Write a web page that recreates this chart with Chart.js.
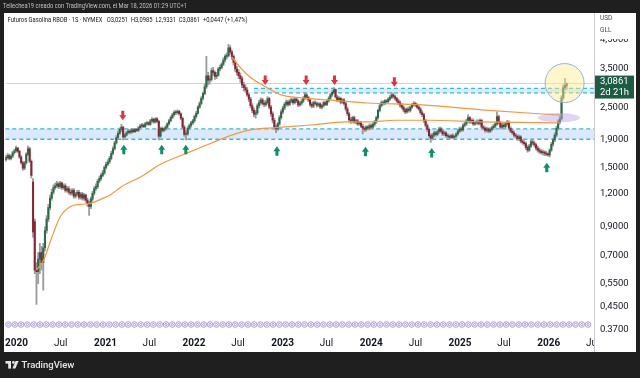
<!DOCTYPE html>
<html>
<head>
<meta charset="utf-8">
<script src="https://cdn.jsdelivr.net/npm/chart.js@4.4.1/dist/chart.umd.min.js"></script>
<style>
  html, body { margin: 0; padding: 0; background: #1f1f1f; }
</style>
</head>
<body>
<canvas id="rbobChart" width="640" height="378"></canvas>
<script>
// Weekly RBOB candles, first candle = week of 2019-11-18
const startWeek = "2019-11-18";

const opens = [
  1.60,1.63,1.66,1.62,1.65,1.70,1.73,1.77,1.72,1.64,
  1.56,1.49,1.56,1.68,1.76,1.58,1.32,0.94,0.62,0.61,
  0.68,0.72,0.66,0.75,0.87,0.96,1.06,1.15,1.21,1.26,
  1.28,1.30,1.27,1.31,1.26,1.28,1.23,1.25,1.21,1.20,
  1.23,1.17,1.19,1.21,1.16,1.19,1.15,1.18,1.13,1.10,
  1.07,1.14,1.20,1.25,1.27,1.33,1.36,1.40,1.43,1.50,
  1.54,1.57,1.62,1.69,1.76,1.85,1.94,2.01,2.08,2.12,
  1.95,1.98,2.02,2.05,2.03,2.07,2.04,2.08,2.06,2.11,
  2.14,2.16,2.13,2.18,2.20,2.17,2.24,2.27,2.22,2.28,
  2.23,1.96,2.10,2.06,2.09,2.12,2.18,2.24,2.30,2.36,
  2.41,2.40,2.43,2.38,2.29,2.12,1.99,2.00,2.10,2.15,
  2.20,2.24,2.32,2.39,2.52,2.60,2.72,2.83,3.00,3.30,
  3.18,3.20,3.45,3.40,3.28,3.32,3.50,3.55,3.65,3.78,
  3.90,3.92,4.20,4.05,3.90,3.70,3.50,3.40,3.30,3.22,
  3.05,2.98,2.92,2.80,2.70,2.55,2.45,2.37,2.40,2.55,
  2.62,2.68,2.60,2.58,2.62,2.71,2.52,2.38,2.25,2.12,
  2.09,2.18,2.30,2.42,2.50,2.58,2.63,2.58,2.65,2.68,
  2.62,2.70,2.66,2.57,2.60,2.65,2.72,2.80,2.74,2.68,
  2.58,2.54,2.62,2.60,2.56,2.59,2.52,2.55,2.62,2.58,
  2.66,2.72,2.80,2.86,2.93,2.75,2.68,2.72,2.63,2.68,
  2.60,2.48,2.38,2.26,2.24,2.30,2.22,2.24,2.18,2.20,
  2.14,2.10,2.08,2.12,2.10,2.15,2.12,2.17,2.22,2.30,
  2.45,2.55,2.62,2.60,2.66,2.64,2.70,2.74,2.80,2.76,
  2.72,2.66,2.62,2.56,2.52,2.46,2.42,2.48,2.45,2.52,
  2.57,2.60,2.56,2.52,2.48,2.40,2.36,2.24,2.15,2.08,
  1.97,1.93,1.98,2.02,1.99,2.04,2.09,2.05,2.00,2.02,
  1.97,1.96,1.94,1.97,1.94,1.96,2.00,2.05,2.09,2.07,
  2.15,2.18,2.24,2.30,2.22,2.25,2.18,2.20,2.23,2.19,
  2.25,2.12,2.10,2.06,2.09,2.05,2.08,2.11,2.14,2.18,
  2.32,2.20,2.12,2.16,2.13,2.18,2.21,2.10,2.05,2.02,
  1.98,1.96,1.92,1.95,1.88,1.86,1.84,1.78,1.74,1.80,
  1.87,1.85,1.82,1.77,1.74,1.72,1.70,1.71,1.69,1.68,
  1.67,1.74,1.83,1.90,1.98,2.10,2.22,2.28,2.73,2.98,3.0251
];
const highs = [
  1.66,1.69,1.68,1.67,1.72,1.75,1.80,1.78,1.74,1.66,
  1.58,1.58,1.70,1.80,1.78,1.60,1.36,0.96,0.66,0.72,
  0.78,0.76,0.78,0.90,0.99,1.09,1.18,1.24,1.29,1.31,
  1.33,1.32,1.33,1.32,1.30,1.30,1.27,1.27,1.24,1.25,
  1.25,1.21,1.23,1.23,1.21,1.21,1.20,1.19,1.15,1.12,
  1.16,1.22,1.27,1.30,1.35,1.39,1.42,1.46,1.52,1.57,
  1.60,1.65,1.72,1.79,1.88,1.97,2.05,2.11,2.17,2.13,
  2.01,2.05,2.08,2.07,2.10,2.09,2.10,2.10,2.13,2.17,
  2.19,2.18,2.21,2.23,2.22,2.27,2.30,2.29,2.30,2.30,
  2.25,2.12,2.12,2.11,2.15,2.20,2.27,2.33,2.39,2.44,
  2.45,2.46,2.45,2.40,2.31,2.15,2.05,2.13,2.18,2.23,
  2.27,2.35,2.43,2.55,2.64,2.76,2.87,3.08,3.90,3.40,
  3.30,3.52,3.55,3.44,3.40,3.55,3.62,3.70,3.85,3.96,
  4.02,4.33,4.28,4.12,3.95,3.76,3.58,3.48,3.38,3.28,
  3.12,3.05,2.98,2.85,2.74,2.60,2.50,2.45,2.59,2.67,
  2.73,2.72,2.66,2.67,2.76,2.74,2.56,2.42,2.29,2.16,
  2.21,2.34,2.46,2.54,2.62,2.68,2.67,2.69,2.73,2.71,
  2.74,2.74,2.69,2.64,2.69,2.76,2.86,2.83,2.77,2.71,
  2.62,2.65,2.66,2.63,2.62,2.62,2.58,2.65,2.65,2.69,
  2.76,2.84,2.90,2.98,2.95,2.79,2.76,2.75,2.71,2.71,
  2.63,2.52,2.41,2.30,2.33,2.33,2.27,2.27,2.23,2.23,
  2.17,2.13,2.15,2.15,2.18,2.18,2.20,2.25,2.33,2.48,
  2.58,2.66,2.66,2.69,2.69,2.73,2.78,2.86,2.84,2.79,
  2.75,2.70,2.66,2.60,2.55,2.50,2.51,2.52,2.55,2.60,
  2.64,2.63,2.59,2.55,2.51,2.44,2.39,2.27,2.18,2.11,
  2.00,2.01,2.05,2.05,2.07,2.12,2.12,2.08,2.05,2.04,
  2.00,1.99,1.99,2.00,1.98,2.02,2.08,2.12,2.12,2.18,
  2.21,2.27,2.36,2.32,2.28,2.28,2.23,2.26,2.26,2.28,
  2.27,2.15,2.13,2.12,2.11,2.11,2.14,2.17,2.21,2.42,
  2.35,2.23,2.19,2.19,2.21,2.25,2.24,2.13,2.08,2.05,
  2.01,1.99,1.98,1.97,1.91,1.89,1.87,1.81,1.83,1.90,
  1.90,1.88,1.84,1.80,1.77,1.75,1.74,1.73,1.72,1.70,
  1.76,1.86,1.93,2.02,2.14,2.26,2.33,2.78,3.05,3.23,3.0985
];
const lows = [
  1.58,1.61,1.60,1.60,1.63,1.68,1.71,1.70,1.62,1.54,
  1.46,1.47,1.54,1.66,1.56,1.37,0.82,0.60,0.46,0.55,
  0.60,0.62,0.52,0.73,0.85,0.94,1.04,1.13,1.19,1.24,
  1.26,1.25,1.25,1.24,1.24,1.21,1.21,1.19,1.18,1.18,
  1.15,1.15,1.17,1.14,1.14,1.13,1.13,1.11,1.07,0.99,
  1.05,1.12,1.18,1.23,1.25,1.31,1.34,1.38,1.41,1.48,
  1.52,1.55,1.60,1.67,1.74,1.83,1.92,1.99,2.04,1.90,
  1.93,1.96,2.00,2.00,2.01,2.02,2.02,2.04,2.04,2.09,
  2.11,2.11,2.11,2.16,2.15,2.15,2.21,2.19,2.20,2.20,
  1.90,1.94,2.03,2.04,2.06,2.10,2.16,2.22,2.28,2.33,
  2.36,2.37,2.35,2.26,2.09,1.96,1.90,1.98,2.07,2.12,
  2.17,2.21,2.29,2.37,2.49,2.57,2.68,2.80,2.96,3.05,
  3.08,3.15,3.32,3.20,3.22,3.28,3.44,3.50,3.60,3.72,
  3.82,3.88,3.98,3.80,3.62,3.42,3.32,3.22,3.12,2.98,
  2.90,2.86,2.76,2.64,2.50,2.40,2.32,2.29,2.36,2.50,
  2.58,2.56,2.53,2.54,2.58,2.48,2.33,2.20,2.08,2.02,
  2.06,2.15,2.27,2.38,2.46,2.54,2.54,2.55,2.61,2.58,
  2.59,2.62,2.53,2.54,2.56,2.62,2.69,2.70,2.64,2.54,
  2.50,2.51,2.57,2.52,2.53,2.49,2.48,2.52,2.55,2.55,
  2.63,2.69,2.76,2.83,2.72,2.64,2.65,2.59,2.60,2.56,
  2.44,2.34,2.22,2.19,2.20,2.19,2.18,2.15,2.15,2.11,
  2.00,2.04,2.05,2.07,2.07,2.09,2.09,2.14,2.19,2.27,
  2.42,2.52,2.56,2.57,2.60,2.61,2.67,2.71,2.72,2.68,
  2.63,2.58,2.52,2.48,2.42,2.38,2.39,2.41,2.42,2.49,
  2.54,2.53,2.49,2.45,2.37,2.32,2.21,2.12,2.04,1.94,
  1.86,1.90,1.95,1.96,1.97,2.01,2.02,1.97,1.97,1.94,
  1.93,1.91,1.92,1.92,1.91,1.94,1.98,2.02,2.04,2.05,
  2.12,2.15,2.21,2.19,2.19,2.15,2.15,2.17,2.16,2.16,
  2.09,2.07,2.03,2.03,2.02,2.02,2.05,2.08,2.11,2.15,
  2.17,2.09,2.09,2.10,2.10,2.15,2.07,2.02,1.99,1.95,
  1.93,1.89,1.89,1.85,1.83,1.81,1.75,1.71,1.72,1.78,
  1.82,1.79,1.74,1.71,1.69,1.68,1.67,1.66,1.66,1.65,
  1.64,1.72,1.80,1.87,1.95,2.07,2.18,2.25,2.70,2.92,2.9331
];
const closes = [
  1.63,1.66,1.62,1.65,1.70,1.73,1.77,1.72,1.64,1.56,
  1.49,1.56,1.68,1.76,1.58,1.40,0.86,0.62,0.61,0.68,
  0.72,0.66,0.75,0.87,0.96,1.06,1.15,1.21,1.26,1.28,
  1.30,1.27,1.31,1.26,1.28,1.23,1.25,1.21,1.20,1.23,
  1.17,1.19,1.21,1.16,1.19,1.15,1.18,1.13,1.10,1.07,
  1.14,1.20,1.25,1.27,1.33,1.36,1.40,1.43,1.50,1.54,
  1.57,1.62,1.69,1.76,1.85,1.94,2.01,2.08,2.12,1.95,
  1.98,2.02,2.05,2.03,2.07,2.04,2.08,2.06,2.11,2.14,
  2.16,2.13,2.18,2.20,2.17,2.24,2.27,2.22,2.28,2.23,
  1.96,2.10,2.06,2.09,2.12,2.18,2.24,2.30,2.36,2.41,
  2.40,2.43,2.38,2.29,2.12,1.99,2.00,2.10,2.15,2.20,
  2.24,2.32,2.39,2.52,2.60,2.72,2.83,3.00,3.30,3.18,
  3.20,3.45,3.40,3.28,3.32,3.50,3.55,3.65,3.78,3.90,
  3.92,4.20,4.05,3.90,3.70,3.50,3.40,3.30,3.22,3.05,
  2.98,2.92,2.80,2.70,2.55,2.45,2.37,2.40,2.55,2.62,
  2.68,2.60,2.58,2.62,2.71,2.52,2.38,2.25,2.12,2.09,
  2.18,2.30,2.42,2.50,2.58,2.63,2.58,2.65,2.68,2.62,
  2.70,2.66,2.57,2.60,2.65,2.72,2.80,2.74,2.68,2.58,
  2.54,2.62,2.60,2.56,2.59,2.52,2.55,2.62,2.58,2.66,
  2.72,2.80,2.86,2.93,2.75,2.68,2.72,2.63,2.68,2.60,
  2.48,2.38,2.26,2.24,2.30,2.22,2.24,2.18,2.20,2.14,
  2.10,2.08,2.12,2.10,2.15,2.12,2.17,2.22,2.30,2.45,
  2.55,2.62,2.60,2.66,2.64,2.70,2.74,2.80,2.76,2.72,
  2.66,2.62,2.56,2.52,2.46,2.42,2.48,2.45,2.52,2.57,
  2.60,2.56,2.52,2.48,2.40,2.36,2.24,2.15,2.08,1.97,
  1.93,1.98,2.02,1.99,2.04,2.09,2.05,2.00,2.02,1.97,
  1.96,1.94,1.97,1.94,1.96,2.00,2.05,2.09,2.07,2.15,
  2.18,2.24,2.30,2.22,2.25,2.18,2.20,2.23,2.19,2.25,
  2.12,2.10,2.06,2.09,2.05,2.08,2.11,2.14,2.18,2.32,
  2.20,2.12,2.16,2.13,2.18,2.21,2.10,2.05,2.02,1.98,
  1.96,1.92,1.95,1.88,1.86,1.84,1.78,1.74,1.80,1.87,
  1.85,1.82,1.77,1.74,1.72,1.70,1.71,1.69,1.68,1.67,
  1.74,1.83,1.90,1.98,2.10,2.22,2.28,2.73,2.98,3.0414,3.0861
];

// the two orange averages, read at a handful of weeks
const slowMaWeeks = [18, 22, 27, 32, 38, 44, 50, 56, 62, 68, 80, 91, 107, 121, 132, 144, 159, 180, 200, 213, 229, 249, 280, 326];
const slowMa = [0.62, 0.67, 0.82, 0.98, 1.07, 1.09, 1.10, 1.14, 1.19, 1.27, 1.39, 1.54, 1.70, 1.85, 1.97, 2.07, 2.11, 2.16, 2.22, 2.22, 2.25, 2.25, 2.22, 2.20];
const fastMaWeeks = [133, 137, 141, 145, 149, 156, 162, 174, 190, 206, 213, 245, 280, 327];
const fastMa = [3.88, 3.60, 3.38, 3.22, 3.10, 2.92, 2.80, 2.73, 2.68, 2.63, 2.61, 2.57, 2.46, 2.35];

// support / resistance zones
const zoneLows = [1.91, 2.85];
const zoneHighs = [2.09, 2.96];
const zoneStartWeeks = [-1, 146];
const refLine = 3.10;

// arrows (week, price at the tip)
const sellWeeks = [68.8, 152.6, 176.7, 193.4, 228.6];
const sellTips = [2.25, 3.05, 3.05, 3.05, 3.0];
const buyWeeks = [69.4, 91.7, 105.9, 159.5, 211.6, 250.6, 318.3];
const buyTips = [1.82, 1.82, 1.82, 1.80, 1.79, 1.77, 1.56];

// highlight shapes
const circleWeek = 328.8, circlePrice = 3.10;
const ellipseWeek = 325.5, ellipsePrice = 2.30;

// axes
const xTickDates = ["2020-01-01","2020-07-01","2021-01-01","2021-07-01","2022-01-01","2022-07-01","2023-01-01",
  "2023-07-01","2024-01-01","2024-07-01","2025-01-01","2025-07-01","2026-01-01","2026-07-01"];
const xTickLabels = ["2020","Jul","2021","Jul","2022","Jul","2023","Jul","2024","Jul","2025","Jul","2026","Jul"];
const yTicks = [0.37, 0.45, 0.55, 0.7, 0.9, 1.2, 1.5, 1.9, 2.5, 3.5, 4.5];

const headerText = "Tellechea19 creado con TradingView.com, el Mar 18, 2026 01:29 UTC+1";
const family = "Roboto, 'Noto Sans', sans-serif";

const weekOf = d => (Date.parse(d) - Date.parse(startWeek)) / (7 * 864e5);
const fmt = v => v.toFixed(4).replace(".", ",");

const last = closes.length - 1;
const change = closes[last] - closes[last - 1];
const legendText = "Futuros Gasolina RBOB \u00b7 1S \u00b7 NYMEX   O" + fmt(opens[last]) + "  H" + fmt(highs[last]) +
  "  L" + fmt(lows[last]) + "  C" + fmt(closes[last]) + "  +" + fmt(change) +
  " (+" + (change / closes[last - 1] * 100).toFixed(2).replace(".", ",") + "%)";

const upColor = "#2b6a47";
const downColor = "#8c2433";
const wickColor = "#9c9c9c";

const idx = closes.map((c, i) => i);
const wickData = idx.map(i => ({ x: i, y: [lows[i], highs[i]] }));
const bodyData = idx.map(i => ({ x: i, y: [opens[i], closes[i]] }));
const bodyColors = idx.map(i => (closes[i] >= opens[i] ? upColor : downColor));

function drawArrow(ctx, x, tip, dir, color) {
  // dir 1 = pointing down, -1 = pointing up
  const headH = 5, stemH = 4.5, headW = 3.5, stemW = 1.5;
  ctx.fillStyle = color;
  ctx.beginPath();
  ctx.moveTo(x, tip);
  ctx.lineTo(x - headW, tip - dir * headH);
  ctx.lineTo(x - stemW, tip - dir * headH);
  ctx.lineTo(x - stemW, tip - dir * (headH + stemH));
  ctx.lineTo(x + stemW, tip - dir * (headH + stemH));
  ctx.lineTo(x + stemW, tip - dir * headH);
  ctx.lineTo(x + headW, tip - dir * headH);
  ctx.closePath();
  ctx.fill();
}

const decor = {
  id: "decor",
  beforeDraw(chart) {
    const ctx = chart.ctx;
    ctx.save();
    ctx.fillStyle = "#1f1f1f";
    ctx.fillRect(0, 0, 640, 378);
    ctx.fillStyle = "#ffffff";
    ctx.fillRect(4, 13, 632, 339);
    ctx.textAlign = "left";
    ctx.textBaseline = "middle";
    ctx.fillStyle = "#c2c2c2";
    ctx.font = "7px " + family;
    ctx.fillText(headerText, 3, 6.5, 184);
    ctx.fillStyle = "#131722";
    ctx.font = "7px " + family;
    ctx.fillText(legendText, 7.5, 20.5, 240);
    // TradingView mark + name
    ctx.fillStyle = "#e6e6e6";
    ctx.fillRect(5.5, 361, 5.5, 2.6);
    ctx.fillRect(8.2, 361, 2.8, 7.6);
    ctx.beginPath();
    ctx.arc(13.4, 362.4, 1.4, 0, Math.PI * 2);
    ctx.fill();
    ctx.beginPath();
    ctx.moveTo(15.6, 361);
    ctx.lineTo(18.6, 361);
    ctx.lineTo(15.4, 368.6);
    ctx.lineTo(12.4, 368.6);
    ctx.closePath();
    ctx.fill();
    ctx.font = "500 9.5px " + family;
    ctx.fillText("TradingView", 21.5, 365.2);
    ctx.restore();
  },
  beforeDatasetsDraw(chart) {
    const { ctx, chartArea: a, scales } = chart;
    ctx.save();
    ctx.beginPath();
    ctx.rect(a.left, a.top, a.right - a.left, a.bottom - a.top);
    ctx.clip();
    // reference line
    const ry = Math.round(scales.y.getPixelForValue(refLine)) + 0.5;
    ctx.strokeStyle = "#d3d6dc";
    ctx.lineWidth = 1;
    ctx.beginPath();
    ctx.moveTo(a.left, ry);
    ctx.lineTo(a.right, ry);
    ctx.stroke();
    zoneLows.forEach((lo, k) => {
      const x0 = Math.max(a.left, scales.x.getPixelForValue(zoneStartWeeks[k]));
      const y0 = scales.y.getPixelForValue(zoneHighs[k]);
      const y1 = scales.y.getPixelForValue(lo);
      ctx.fillStyle = "rgba(80, 140, 235, 0.2)";
      ctx.fillRect(x0, y0, a.right - x0, y1 - y0);
      ctx.strokeStyle = "#2dbfd6";
      ctx.lineWidth = 1.3;
      ctx.setLineDash([4, 3]);
      [y0, y1].forEach(yy => {
        ctx.beginPath();
        ctx.moveTo(x0, yy);
        ctx.lineTo(a.right, yy);
        ctx.stroke();
      });
      ctx.setLineDash([]);
    });
    ctx.restore();
  },
  afterDatasetsDraw(chart) {
    const { ctx, chartArea: a, scales } = chart;
    const xs = scales.x, ys = scales.y;
    ctx.save();
    // row of event markers along the bottom
    const dy = a.bottom - 7.5;
    ctx.strokeStyle = "#a68bdb";
    ctx.lineWidth = 0.9;
    for (let x = a.left + 3.2; x < a.right - 2; x += 6.3) {
      ctx.beginPath();
      ctx.arc(x, dy, 2.8, 0, Math.PI * 2);
      ctx.stroke();
      ctx.beginPath();
      ctx.arc(x, dy, 1.1, 0, Math.PI * 2);
      ctx.stroke();
    }
    // purple ellipse
    ctx.fillStyle = "rgba(185, 160, 225, 0.45)";
    ctx.beginPath();
    ctx.ellipse(xs.getPixelForValue(ellipseWeek), ys.getPixelForValue(ellipsePrice), 21, 4.6, 0, 0, Math.PI * 2);
    ctx.fill();
    // yellow circle
    ctx.fillStyle = "rgba(255, 236, 140, 0.45)";
    ctx.strokeStyle = "#8db3f0";
    ctx.lineWidth = 1;
    ctx.beginPath();
    ctx.arc(xs.getPixelForValue(circleWeek), ys.getPixelForValue(circlePrice), 19.5, 0, Math.PI * 2);
    ctx.fill();
    ctx.stroke();
    sellWeeks.forEach((w, k) => drawArrow(ctx, xs.getPixelForValue(w), ys.getPixelForValue(sellTips[k]), 1, "#df3341"));
    buyWeeks.forEach((w, k) => drawArrow(ctx, xs.getPixelForValue(w), ys.getPixelForValue(buyTips[k]), -1, "#0c8f6c"));
    ctx.restore();
  },
  afterDraw(chart) {
    const { ctx, chartArea: a, scales } = chart;
    ctx.save();
    // clip anything spilling into the lower right corner
    ctx.fillStyle = "#ffffff";
    ctx.fillRect(a.right + 0.5, a.bottom, 636 - a.right - 0.5, 352 - a.bottom);
    // unit box at the top of the price axis
    ctx.fillRect(a.right + 0.5, 13, 636 - a.right - 0.5, 26);
    ctx.fillStyle = "#4a4a4a";
    ctx.font = "6.5px " + family;
    ctx.textBaseline = "middle";
    ctx.fillText("USD", 600, 18.5);
    ctx.fillText("GLL", 600, 30.5);
    // axis separator
    ctx.strokeStyle = "#c9cbd1";
    ctx.lineWidth = 1;
    ctx.beginPath();
    ctx.moveTo(a.right + 0.5, 13);
    ctx.lineTo(a.right + 0.5, 352);
    ctx.stroke();
    // last price label
    const py = scales.y.getPixelForValue(closes[last]);
    ctx.fillStyle = "#1e5b44";
    ctx.fillRect(a.right + 1, py - 8, 39, 23);
    ctx.fillStyle = "#ffffff";
    ctx.font = "9.5px " + family;
    ctx.fillText(fmt(closes[last]), 600, py - 1.5);
    ctx.fillText("2d 21h", 600, py + 9.5);
    ctx.restore();
  }
};

new Chart(document.getElementById("rbobChart"), {
  type: "bar",
  data: {
    datasets: [
      {
        type: "line",
        data: slowMaWeeks.map((w, k) => ({ x: w, y: slowMa[k] })),
        borderColor: "#f7973d",
        borderWidth: 1.2,
        pointRadius: 0,
        cubicInterpolationMode: "monotone",
        order: 0,
      },
      {
        type: "line",
        data: fastMaWeeks.map((w, k) => ({ x: w, y: fastMa[k] })),
        borderColor: "#f7973d",
        borderWidth: 1.2,
        pointRadius: 0,
        cubicInterpolationMode: "monotone",
        order: 0,
      },
      {
        data: bodyData,
        backgroundColor: bodyColors,
        barThickness: 1.4,
        minBarLength: 1,
        grouped: false,
        borderWidth: 0,
        order: 1,
      },
      {
        data: wickData,
        backgroundColor: wickColor,
        barThickness: 1.2,
        grouped: false,
        borderWidth: 0,
        order: 2,
      },
    ],
  },
  options: {
    responsive: false,
    animation: false,
    devicePixelRatio: 1,
    layout: { padding: { left: 4, top: 14, right: 5, bottom: 26 } },
    plugins: { legend: { display: false }, tooltip: { enabled: false } },
    scales: {
      x: {
        type: "linear",
        offset: false,
        min: -0.35,
        max: 346.1,
        grid: { display: false, drawTicks: false },
        border: { display: false },
        afterBuildTicks: s => { s.ticks = xTickDates.map(d => ({ value: weekOf(d) })); },
        afterFit: s => { s.height = 20; },
        ticks: {
          autoSkip: false,
          maxRotation: 0,
          padding: 5,
          color: "#131722",
          font: c => ({ family: family, size: 10, weight: xTickLabels[c.index] === "Jul" ? "normal" : "bold" }),
          callback: (v, i) => xTickLabels[i],
        },
      },
      y: {
        type: "logarithmic",
        position: "right",
        min: 0.363,
        max: 5.62,
        grid: { display: false, drawTicks: false },
        border: { display: true, color: "#c9cbd1" },
        afterBuildTicks: s => { s.ticks = yTicks.map(v => ({ value: v })); },
        afterFit: s => { s.width = 41; },
        ticks: {
          autoSkip: false,
          padding: 6,
          color: "#131722",
          font: { family: family, size: 9.5 },
          callback: v => fmt(v),
        },
      },
    },
  },
  plugins: [decor],
});
</script>
</body>
</html>
